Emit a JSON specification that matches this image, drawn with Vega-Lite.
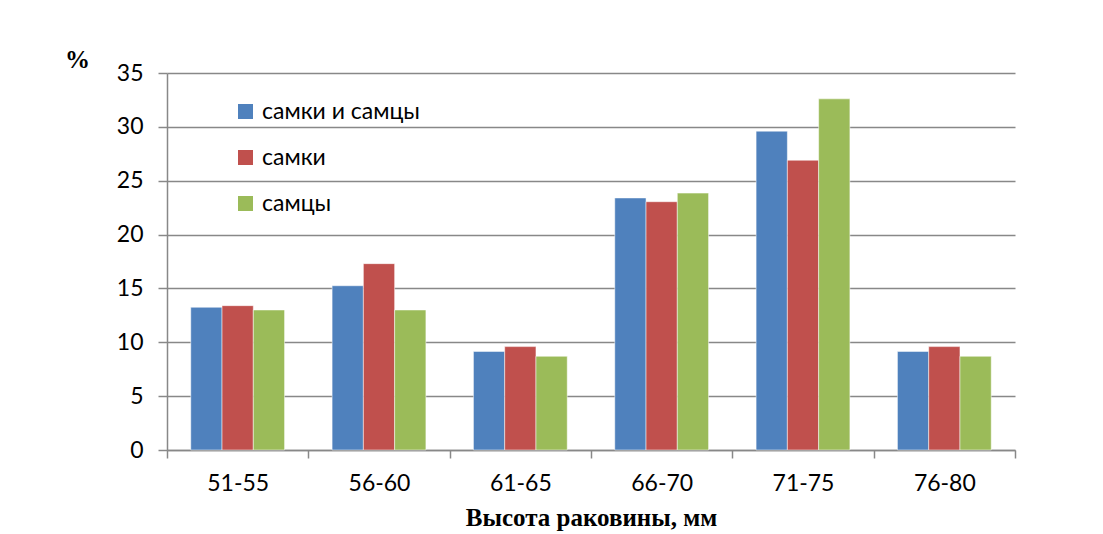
{
  "$schema": "https://vega.github.io/schema/vega-lite/v6.json",
  "width": 848,
  "height": 377,
  "autosize": {"type": "none"},
  "padding": {"left": 167, "top": 73, "right": 88, "bottom": 84},
  "background": "white",
  "data": {"values": [
    {"group": "51-55", "series": "самки и самцы", "value": 13.25},
    {"group": "51-55", "series": "самки", "value": 13.4},
    {"group": "51-55", "series": "самцы", "value": 13.0},
    {"group": "56-60", "series": "самки и самцы", "value": 15.25},
    {"group": "56-60", "series": "самки", "value": 17.3},
    {"group": "56-60", "series": "самцы", "value": 13.0},
    {"group": "61-65", "series": "самки и самцы", "value": 9.15},
    {"group": "61-65", "series": "самки", "value": 9.6},
    {"group": "61-65", "series": "самцы", "value": 8.7},
    {"group": "66-70", "series": "самки и самцы", "value": 23.4},
    {"group": "66-70", "series": "самки", "value": 23.05},
    {"group": "66-70", "series": "самцы", "value": 23.85},
    {"group": "71-75", "series": "самки и самцы", "value": 29.6},
    {"group": "71-75", "series": "самки", "value": 26.9},
    {"group": "71-75", "series": "самцы", "value": 32.6},
    {"group": "76-80", "series": "самки и самцы", "value": 9.15},
    {"group": "76-80", "series": "самки", "value": 9.6},
    {"group": "76-80", "series": "самцы", "value": 8.7}
  ]},
  "mark": {"type": "bar", "stroke": "white", "strokeWidth": 0.5},
  "encoding": {
    "x": {
      "field": "group", "type": "nominal", "sort": null,
      "scale": {"paddingInner": 0, "paddingOuter": 0},
      "axis": {
        "title": "Высота раковины, мм",
        "titleFont": "Liberation Serif", "titleFontSize": 25, "titleFontWeight": "bold", "titleColor": "black",
        "titlePadding": 10,
        "labelAngle": 0, "labelFont": "Lato", "labelFontSize": 23, "labelColor": "black", "labelPadding": 14,
        "tickBand": "extent", "tickSize": 8, "tickColor": "#888888", "tickWidth": 1.5,
        "domainColor": "#888888", "domainWidth": 1.5
      }
    },
    "xOffset": {
      "field": "series", "type": "nominal",
      "sort": ["самки и самцы", "самки", "самцы"],
      "scale": {"paddingInner": 0, "paddingOuter": 0.76}
    },
    "y": {
      "field": "value", "type": "quantitative",
      "scale": {"domain": [0, 35], "nice": false},
      "axis": {
        "title": "%", "titleAngle": 0, "titleFont": "Liberation Serif", "titleFontSize": 25, "titleFontWeight": "bold",
        "titleColor": "black", "titleX": -90, "titleY": -14, "titleAlign": "center", "titleBaseline": "middle",
        "values": [0, 5, 10, 15, 20, 25, 30, 35],
        "labelFont": "Lato", "labelFontSize": 23, "labelColor": "black", "labelPadding": 15,
        "tickSize": 9, "tickColor": "#888888", "tickWidth": 1.5,
        "grid": true, "gridColor": "#888888", "gridWidth": 1.5,
        "domainColor": "#888888", "domainWidth": 1.5
      }
    },
    "color": {
      "field": "series", "type": "nominal",
      "sort": ["самки и самцы", "самки", "самцы"],
      "scale": {"domain": ["самки и самцы", "самки", "самцы"], "range": ["#4F81BD", "#C0504D", "#9BBB59"]},
      "legend": {
        "title": null, "orient": "none", "legendX": 67, "legendY": 27,
        "symbolType": "square", "symbolSize": 225, "symbolStrokeWidth": 0,
        "labelFont": "Lato", "labelFontSize": 23, "labelColor": "black",
        "rowPadding": 22, "labelOffset": 5
      }
    }
  },
  "config": {"view": {"stroke": null}}
}
